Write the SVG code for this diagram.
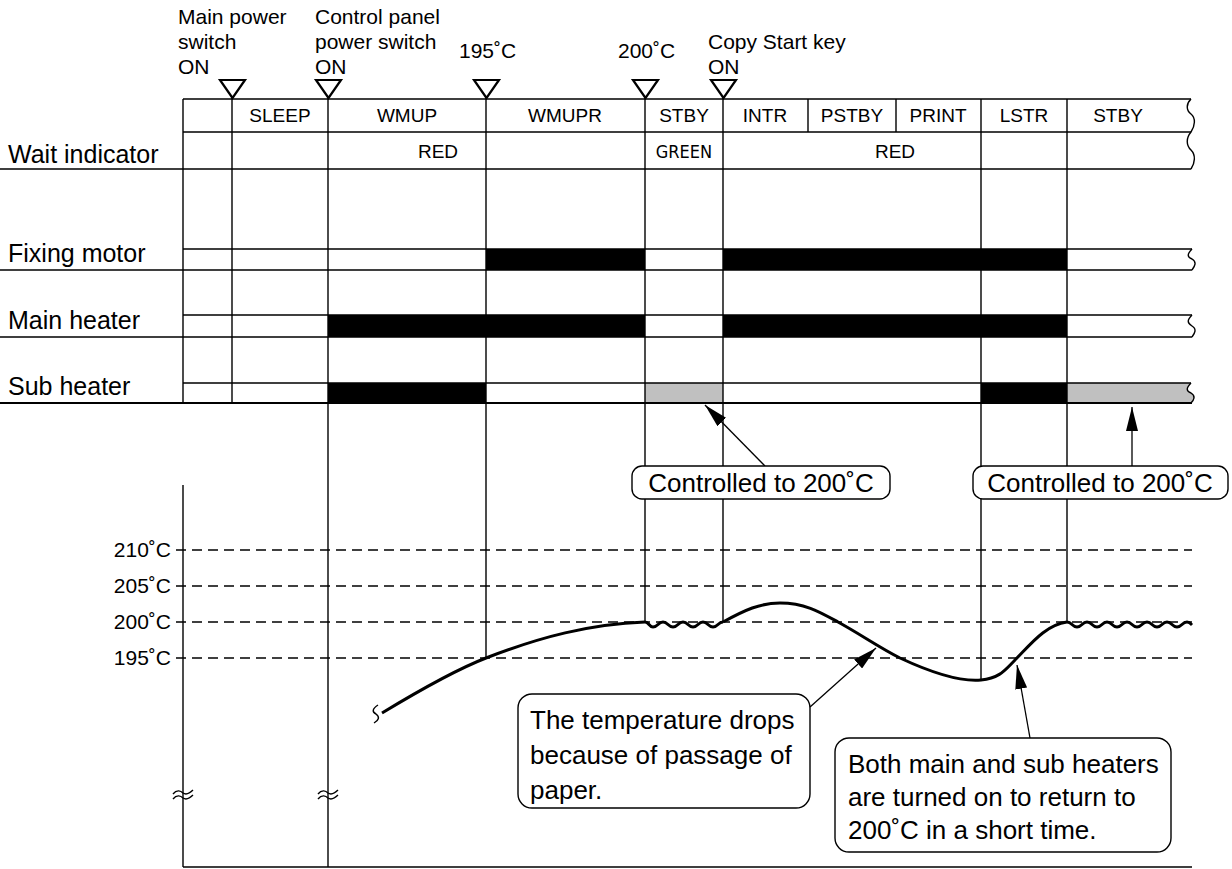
<svg xmlns="http://www.w3.org/2000/svg" width="1232" height="869" viewBox="0 0 1232 869">
<style>
text{font-family:"Liberation Sans",Arial,sans-serif;fill:#000}
.top{font-size:21px}
.st{font-size:19px;text-anchor:middle}
.lab{font-size:25px}
.tl{font-size:21px;text-anchor:end}
.big{font-size:26px}
.ln{stroke:#000;stroke-width:1.4;fill:none}
.hl{stroke:#000;stroke-width:1.8;fill:none}
.dash{stroke:#000;stroke-width:1.4;stroke-dasharray:10 6;fill:none}
.tri{fill:#fff;stroke:#000;stroke-width:2.2}
.blk{fill:#000}
.gry{fill:#c0c0c0}
.crv{stroke:#000;stroke-width:3;fill:none;stroke-linejoin:round}
.box{fill:#fff;stroke:#000;stroke-width:1.4}
.arr{stroke:#000;stroke-width:1.3;fill:none}
</style>
<defs>
<marker id="ah2" viewBox="0 0 24 12" refX="24" refY="6" markerWidth="24" markerHeight="12" markerUnits="userSpaceOnUse" orient="auto">
<path d="M0,0 L24,6 L0,12 z" fill="#000"/>
</marker>
</defs>

<!-- bars -->
<g id="bars">
<rect class="blk" x="486" y="249" width="159" height="21"/>
<rect class="blk" x="723" y="249" width="344" height="21"/>
<rect class="blk" x="328" y="315" width="317" height="22"/>
<rect class="blk" x="723" y="315" width="344" height="22"/>
<rect class="blk" x="328" y="383" width="158" height="20"/>
<rect class="gry" x="645" y="383" width="78" height="20"/>
<rect class="blk" x="981" y="383" width="86" height="20"/>
<path class="gry" d="M1067,383 L1191,383 C1186,388 1186,391 1191,393 C1196,396 1194,400 1191,403 L1067,403 z"/>
</g>

<!-- table grid -->
<g id="table">
<path class="ln" d="M183,99 H1191 M183,132 H1191 M0,169 H1191"/>
<path class="ln" d="M183,249 H1192 M0,270 H1192 M183,315 H1192 M0,337 H1192 M183,383 H1191"/>
<path class="hl" d="M0,403 H1192" style="stroke-width:2.2"/>
<path class="ln" d="M183,99 V403 M232,95 V403 M808,99 V132 M896,99 V132"/>
<path class="ln" d="M486,95 V658 M645,95 V622 M723,95 V622 M981,99 V680 M1067,99 V622"/>
<path class="ln" d="M328,95 V867"/>
<!-- right break marks -->
<path class="ln" d="M1191,99 C1186,104 1186,110 1191,114 C1196,118 1195,126 1191,132 C1186,138 1186,145 1191,150 C1196,155 1195,163 1191,169"/>
<path class="ln" d="M1192,249 C1187,254 1187,257 1192,259 C1197,262 1195,266 1192,270"/>
<path class="ln" d="M1192,315 C1187,320 1187,323 1192,326 C1197,329 1195,333 1192,337"/>
<path class="ln" d="M1191,383 C1186,388 1186,391 1191,393 C1196,396 1194,400 1191,403"/>
</g>

<!-- event markers -->
<g id="markers">
<path class="tri" d="M220,80 L245,80 L232.5,98 z"/>
<path class="tri" d="M316,80 L341,80 L328.5,98 z"/>
<path class="tri" d="M474,80 L499,80 L486.5,98 z"/>
<path class="tri" d="M633,80 L658,80 L645.5,98 z"/>
<path class="tri" d="M711,80 L736,80 L723.5,98 z"/>
<text class="top" x="178" y="24">Main power</text>
<text class="top" x="178" y="49">switch</text>
<text class="top" x="178" y="74">ON</text>
<text class="top" x="315" y="24">Control panel</text>
<text class="top" x="315" y="49">power switch</text>
<text class="top" x="315" y="74">ON</text>
<text class="top" x="459" y="58">195˚C</text>
<text class="top" x="618" y="58">200˚C</text>
<text class="top" x="708" y="49">Copy Start key</text>
<text class="top" x="708" y="74">ON</text>
</g>

<!-- state labels -->
<g id="states">
<text class="st" x="280" y="122">SLEEP</text>
<text class="st" x="407" y="122">WMUP</text>
<text class="st" x="565" y="122">WMUPR</text>
<text class="st" x="684" y="122">STBY</text>
<text class="st" x="765" y="122">INTR</text>
<text class="st" x="852" y="122">PSTBY</text>
<text class="st" x="938" y="122">PRINT</text>
<text class="st" x="1024" y="122">LSTR</text>
<text class="st" x="1118" y="122">STBY</text>
<text class="st" x="438" y="158">RED</text>
<text class="st" x="684" y="158" style="font-family:'DejaVu Sans Condensed','DejaVu Sans',sans-serif;font-size:18px">GREEN</text>
<text class="st" x="895" y="158">RED</text>
</g>

<!-- row labels -->
<g id="rows">
<text class="lab" x="8" y="163">Wait indicator</text>
<text class="lab" x="8" y="262">Fixing motor</text>
<text class="lab" x="8" y="329">Main heater</text>
<text class="lab" x="8" y="395">Sub heater</text>
</g>

<!-- temperature graph -->
<g id="graph">
<path class="ln" d="M183,485 V867 M183,867 H1192"/>
<path class="dash" d="M176,550 H1192 M176,586 H1192 M176,622 H1192 M176,658 H1192"/>
<text class="tl" x="171" y="557">210˚C</text>
<text class="tl" x="171" y="593">205˚C</text>
<text class="tl" x="171" y="629">200˚C</text>
<text class="tl" x="171" y="665">195˚C</text>
<path class="ln" d="M173,794 C177,789 181,791 183,793 C186,795 190,793 193,790 M173,799 C177,794 181,796 183,798 C186,800 190,798 193,795"/>
<path class="ln" d="M318,794 C322,789 326,791 328,793 C331,795 335,793 338,790 M318,799 C322,794 326,796 328,798 C331,800 335,798 338,795"/>
<path class="ln" d="M378,705 C372,709 372,712 376,714 C380,717 379,720 374,723"/>
<path class="crv" d="M382,713 C420,690 455,670 486,658 C540,637 590,624 645,622"/>
<path class="crv" d="M645,622 C649,622 649,627 653,627 C658,627 658,622 663,622 C668,622 668,627 673,627 C678,627 678,622 683,622 C688,622 688,627 693,627 C698,627 698,622 703,622 C708,622 708,627 713,627 C718,627 718,622 723,622"/>
<path class="crv" d="M723,622 C745,610 760,603 780,603 C805,603 820,612 838,622 C860,634 880,648 900,658 C930,672 960,682 981,680 C1000,678 1005,670 1015,660 C1030,645 1045,625 1067,622"/>
<path class="crv" d="M1067,622 C1072,622 1072,627 1077,627 C1082,627 1082,622 1087,622 C1092,622 1092,627 1097,627 C1102,627 1102,622 1107,622 C1112,622 1112,627 1117,627 C1122,627 1122,622 1127,622 C1132,622 1132,627 1137,627 C1142,627 1142,622 1147,622 C1152,622 1152,627 1157,627 C1162,627 1162,622 1167,622 C1172,622 1172,627 1177,627 C1182,627 1182,622 1187,622 C1190,622 1191,624 1192,625"/>
</g>

<!-- connectors -->
<g id="connectors">
<path class="arr" d="M765,466 L705,405" marker-end="url(#ah2)"/>
<path class="arr" d="M1132,466 L1132,407" marker-end="url(#ah2)"/>
<path class="arr" d="M810,707 L876,648" marker-end="url(#ah2)"/>
<path class="arr" d="M1030,738 L1017,665" marker-end="url(#ah2)"/>
</g>

<!-- callouts -->
<g id="callout1">
<rect class="box" x="632" y="466" width="258" height="33" rx="10"/>
<text class="big" x="761" y="492" text-anchor="middle">Controlled to 200˚C</text>
</g>
<g id="callout2">
<rect class="box" x="973" y="466" width="255" height="33" rx="10"/>
<text class="big" x="1100" y="492" text-anchor="middle">Controlled to 200˚C</text>
</g>
<g id="callout3">
<rect class="box" x="518" y="694" width="292" height="114" rx="14"/>
<text class="big" x="530" y="729">The temperature drops</text>
<text class="big" x="530" y="764">because of passage of</text>
<text class="big" x="530" y="799">paper.</text>
</g>
<g id="callout4">
<rect class="box" x="835" y="738" width="336" height="114" rx="14"/>
<text class="big" x="848" y="773">Both main and sub heaters</text>
<text class="big" x="848" y="806">are turned on to return to</text>
<text class="big" x="848" y="839">200˚C in a short time.</text>
</g>
</svg>
